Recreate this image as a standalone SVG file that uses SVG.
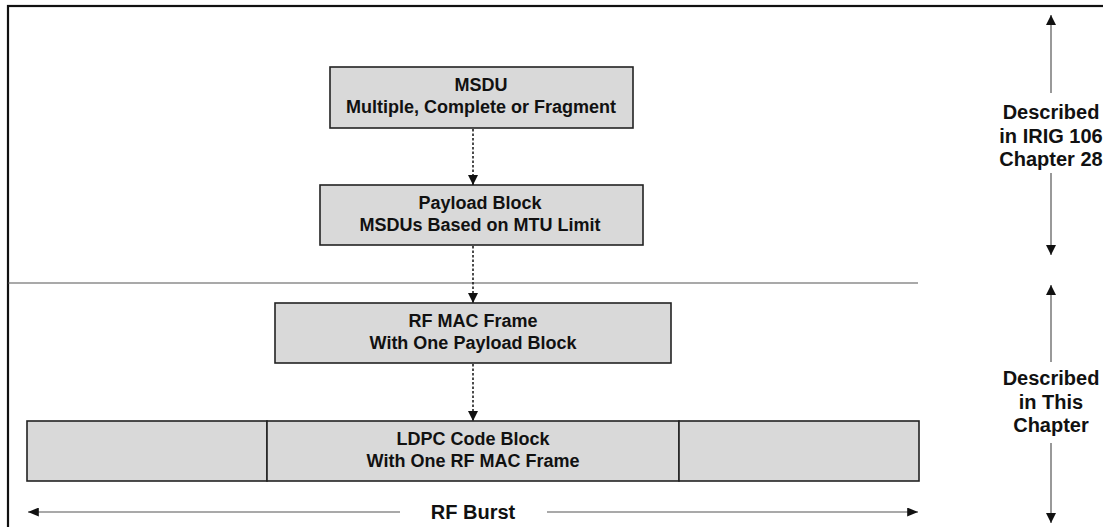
<svg xmlns="http://www.w3.org/2000/svg" width="1103" height="527" viewBox="0 0 1103 527">
<defs>
<style>
.box{fill:#d9d9d9;stroke:#222;stroke-width:1.6}
.t{font-family:"Liberation Sans",Arial,sans-serif;font-weight:bold;font-size:18px;fill:#111;text-anchor:middle}
.lt{font-family:"Liberation Sans",Arial,sans-serif;font-weight:bold;font-size:20px;fill:#111;text-anchor:middle}
.rt{font-family:"Liberation Sans",Arial,sans-serif;font-weight:bold;font-size:20px;fill:#111;text-anchor:middle}
.dash{stroke:#111;stroke-width:1.5;stroke-dasharray:2.5,2;fill:none}
.thin{stroke:#555;stroke-width:1.2;fill:none}
</style>
<marker id="ah" viewBox="0 0 10 10" refX="10" refY="5" markerWidth="10" markerHeight="10" markerUnits="userSpaceOnUse" orient="auto">
<path d="M0,0 L10,5 L0,10 Z" fill="#111"/>
</marker>
<marker id="ahw" viewBox="0 0 12 10" refX="12" refY="5" markerWidth="12" markerHeight="9" markerUnits="userSpaceOnUse" orient="auto">
<path d="M0,0 L12,5 L0,10 Z" fill="#111"/>
</marker>
</defs>
<rect x="0" y="0" width="1103" height="527" fill="#fff"/>
<rect x="8" y="6" width="1200" height="600" fill="none" stroke="#111" stroke-width="2.2"/>
<line x1="8" y1="283" x2="918" y2="283" stroke="#555" stroke-width="1.2"/>

<g id="msdu">
<rect class="box" x="330" y="67" width="303" height="61"/>
<text class="t" x="481" y="91">MSDU</text>
<text class="t" x="481" y="113">Multiple, Complete or Fragment</text>
</g>
<g id="payload">
<rect class="box" x="320" y="185" width="323" height="60"/>
<text class="t" x="480" y="209">Payload Block</text>
<text class="t" x="480" y="231">MSDUs Based on MTU Limit</text>
</g>
<g id="rfmac">
<rect class="box" x="275" y="303" width="396" height="60"/>
<text class="t" x="473" y="327">RF MAC Frame</text>
<text class="t" x="473" y="349">With One Payload Block</text>
</g>
<g id="ldpc-left">
<rect class="box" x="27" y="421" width="240" height="60"/>
</g>
<g id="ldpc">
<rect class="box" x="267" y="421" width="412" height="60"/>
<text class="t" x="473" y="445">LDPC Code Block</text>
<text class="t" x="473" y="467">With One RF MAC Frame</text>
</g>
<g id="ldpc-right">
<rect class="box" x="679" y="421" width="240" height="60"/>
</g>

<g id="connectors">
<line class="dash" x1="473" y1="129" x2="473" y2="185" marker-end="url(#ah)"/>
<line class="dash" x1="473" y1="246" x2="473" y2="303" marker-end="url(#ah)"/>
<line class="dash" x1="473" y1="364" x2="473" y2="421" marker-end="url(#ah)"/>
<line class="thin" x1="400" y1="512" x2="28" y2="512" marker-end="url(#ahw)"/>
<line class="thin" x1="547" y1="512" x2="918" y2="512" marker-end="url(#ahw)"/>
<line class="thin" x1="1051" y1="93" x2="1051" y2="15" marker-end="url(#ah)"/>
<line class="thin" x1="1051" y1="173" x2="1051" y2="255" marker-end="url(#ah)"/>
<line class="thin" x1="1051" y1="362" x2="1051" y2="285" marker-end="url(#ah)"/>
<line class="thin" x1="1051" y1="443" x2="1051" y2="523" marker-end="url(#ah)"/>
</g>

<g id="rfburst">
<text class="lt" x="473" y="519">RF Burst</text>
</g>
<g id="label-top">
<text class="rt" x="1051" y="119">Described</text>
<text class="rt" x="1051" y="143">in IRIG 106</text>
<text class="rt" x="1051" y="166">Chapter 28</text>
</g>
<g id="label-bottom">
<text class="rt" x="1051" y="385">Described</text>
<text class="rt" x="1051" y="409">in This</text>
<text class="rt" x="1051" y="432">Chapter</text>
</g>
</svg>
